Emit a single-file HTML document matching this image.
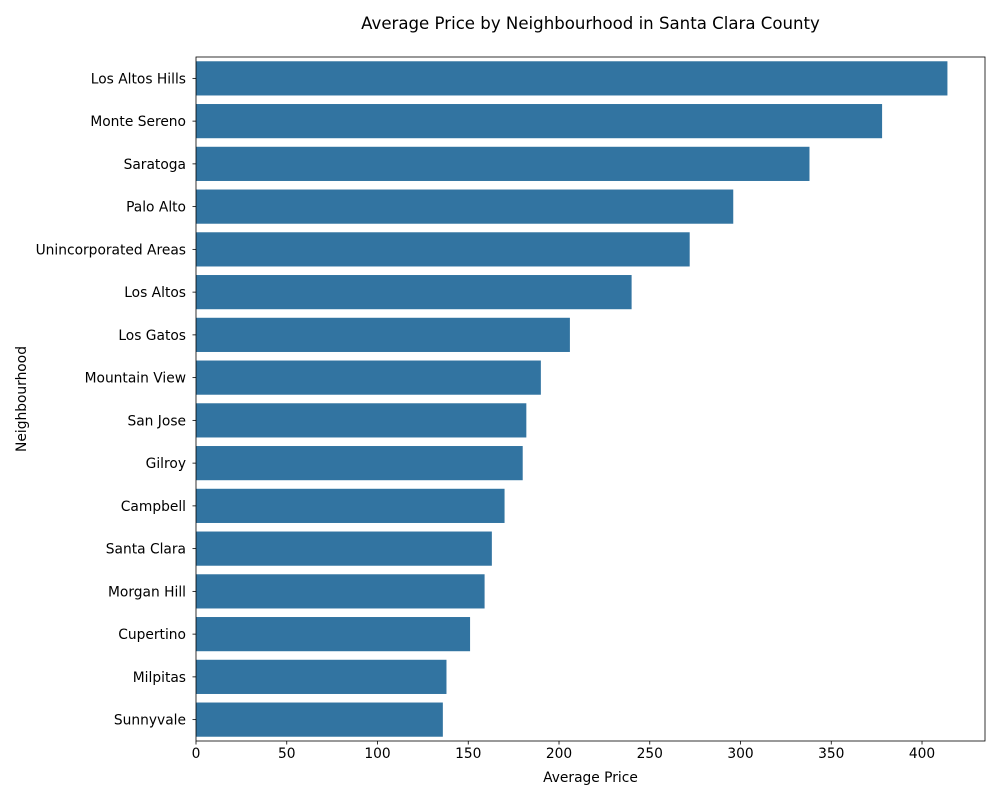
<!DOCTYPE html>
<html><head><meta charset="utf-8"><style>
body{margin:0;background:#fff;font-family:"DejaVu Sans","Liberation Sans",sans-serif;}
svg text{font-family:"DejaVu Sans","Liberation Sans",sans-serif;fill:#000;}
</style></head><body>
<svg id="chart" width="1000" height="800"></svg>
<script>
const categories=["Los Altos Hills","Monte Sereno","Saratoga","Palo Alto","Unincorporated Areas","Los Altos","Los Gatos","Mountain View","San Jose","Gilroy","Campbell","Santa Clara","Morgan Hill","Cupertino","Milpitas","Sunnyvale"];
const values=[414,378,338,296,272,240,206,190,182,180,170,163,159,151,138,136];
const xTicks=[0,50,100,150,200,250,300,350,400];
const L=196,R=985,T=57,B=741,XMAX=434.7;
const svg=document.getElementById('chart');
const NS='http://www.w3.org/2000/svg';
function x(v){return L+(R-L)*v/XMAX;}
const step=(B-T)/categories.length;
function y(i){return T+step*i;}
function mk(t,a,p){const e=document.createElementNS(NS,t);for(const k in a)e.setAttribute(k,a[k]);(p||svg).appendChild(e);return e;}
categories.forEach((c,i)=>{
  const r=mk('rect',{x:x(0),y:y(i)+step*0.1,width:x(values[i])-x(0),height:step*0.8,fill:'#3274a1'});
  
  
  const cy=y(i)+step/2;
  mk('line',{x1:L-3.5,x2:L,y1:cy,y2:cy,stroke:'#000','stroke-width':0.8});
  const t=mk('text',{x:L-10,y:cy+5,'text-anchor':'end','font-size':'13.8'});
  t.textContent=c;
  
  
});
xTicks.forEach(v=>{
  const px=x(v);
  mk('line',{x1:px,x2:px,y1:B,y2:B+3.5,stroke:'#000','stroke-width':0.8});
  const t=mk('text',{x:px,y:B+17,'text-anchor':'middle','font-size':'13.8'});
  t.textContent=v;
  
  
});
const ax=mk('rect',{x:L,y:T,width:R-L,height:B-T,fill:'none',stroke:'#000','stroke-width':0.8});


const ti=mk('text',{x:(L+R)/2,y:29,'text-anchor':'middle','font-size':'16.6'});ti.textContent='Average Price by Neighbourhood in Santa Clara County';


const xt=mk('text',{x:(L+R)/2,y:782,'text-anchor':'middle','font-size':'13.8'});xt.textContent='Average Price';


const yt=mk('text',{x:26,y:(T+B)/2,'text-anchor':'middle','font-size':'13.8',transform:'rotate(-90 26 '+((T+B)/2)+')'});yt.textContent='Neighbourhood';


</script>
</body></html>
